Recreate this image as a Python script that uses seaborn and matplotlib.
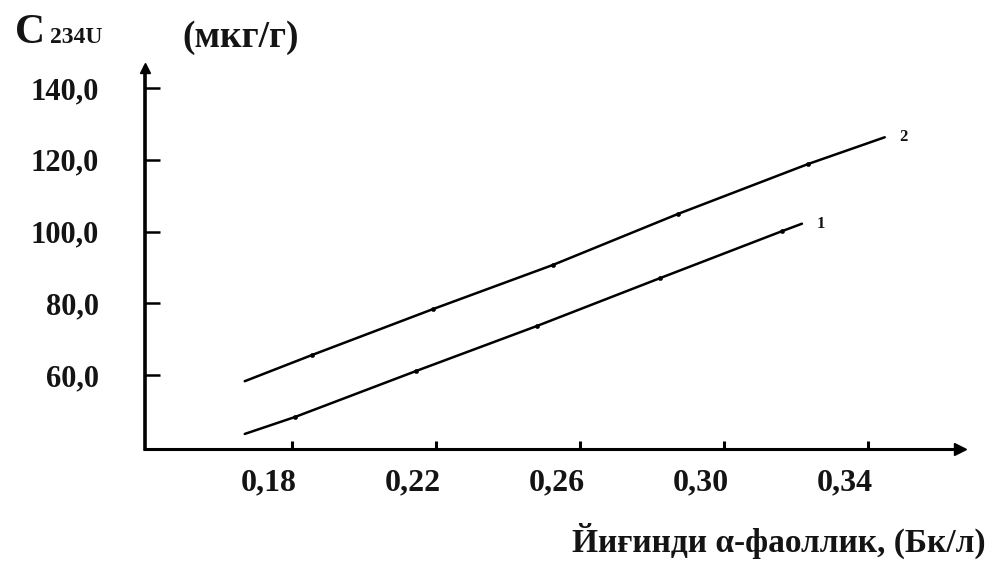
import numpy as np
import pandas as pd
import matplotlib
matplotlib.use("Agg")
import matplotlib.pyplot as plt
import matplotlib.transforms as mtransforms
import seaborn as sns

# ---------------------------------------------------------------------------
# Data
# ---------------------------------------------------------------------------
x_line1 = [0.1669, 0.1808, 0.2144, 0.2481, 0.2822, 0.3161, 0.3217]
y_line1 = [43.6, 48.3, 61.1, 73.7, 87.0, 100.1, 102.2]
x_line2 = [0.1669, 0.1856, 0.2192, 0.2525, 0.2872, 0.3233, 0.3447]
y_line2 = [58.3, 65.6, 78.4, 90.7, 104.9, 118.8, 126.3]

x_ticks = [0.18, 0.22, 0.26, 0.30, 0.34]
x_tick_labels = ["0,18", "0,22", "0,26", "0,30", "0,34"]
y_ticks = [60, 80, 100, 120, 140]
y_tick_labels = ["60,0", "80,0", "100,0", "120,0", "140,0"]

x_label = "Йиғинди α-фаоллик, (Бк/л)"
y_unit = "(мкг/г)"

df = pd.concat([
    pd.DataFrame({"x": x_line1, "y": y_line1, "line": "1"}),
    pd.DataFrame({"x": x_line2, "y": y_line2, "line": "2"}),
], ignore_index=True)

# ---------------------------------------------------------------------------
# Style
# ---------------------------------------------------------------------------
sns.set_theme(style="white")
plt.rcParams["font.family"] = ["Liberation Serif", "DejaVu Serif"]
plt.rcParams["font.weight"] = "bold"
INK = "#141414"

fig = plt.figure(figsize=(9.92, 5.65), dpi=100)
ax = fig.add_axes([0.1462, 0.2053, 0.8215, 0.6743])

sns.lineplot(data=df, x="x", y="y", units="line", estimator=None,
             color="black", lw=1.8, ax=ax, legend=False)
pts = df.groupby("line", group_keys=False).apply(lambda g: g.iloc[1:-1])
sns.scatterplot(data=pts, x="x", y="y", color="black", s=10, marker="o",
                edgecolor="black", ax=ax, legend=False, zorder=3)

ax.set_xlim(0.1392, 0.3656)
ax.set_ylim(39.4, 145.6)

for s in ["top", "right"]:
    ax.spines[s].set_visible(False)
ax.spines["left"].set_linewidth(2.6)
ax.spines["bottom"].set_linewidth(2.2)
ax.spines["left"].set_color("black")
ax.spines["bottom"].set_color("black")

# axis arrows
ax.plot(1, 0, marker=">", color="black", ms=9, transform=ax.transAxes, clip_on=False)
ax.plot(0, 1, marker="^", color="black", ms=7, transform=ax.transAxes, clip_on=False)

ax.set_xticks(x_ticks)
ax.set_xticklabels(x_tick_labels, fontsize=23, fontweight="bold", color=INK)
ax.set_yticks(y_ticks)
ax.set_yticklabels(y_tick_labels, fontsize=22, fontweight="bold", color=INK)
ax.tick_params(axis="y", left=True, direction="in", length=11, width=1.8, pad=33,
               colors="black", labelcolor=INK)
ax.tick_params(axis="x", bottom=True, direction="in", length=6, width=2.2, pad=14,
               colors="black", labelcolor=INK)
for lab in ax.get_xticklabels():
    lab.set_transform(lab.get_transform() +
                      mtransforms.ScaledTranslation(-0.23, 0, fig.dpi_scale_trans))
ax.set_xlabel("")
ax.set_ylabel("")

# series numbers
ax.text(x_line1[-1] + 0.004, y_line1[-1], "1", fontsize=12, fontweight="bold",
        va="center", ha="left", color=INK)
ax.text(x_line2[-1] + 0.004, y_line2[-1], "2", fontsize=12, fontweight="bold",
        va="center", ha="left", color=INK)

# titles
fig.text(15 / 992, 1 - 43 / 565, "C", fontsize=30, fontweight="bold", color=INK)
fig.text(50 / 992, 1 - 43 / 565, "234U", fontsize=17, fontweight="bold", color=INK)
fig.text(182 / 992, 1 - 47 / 565, y_unit, fontsize=27, fontweight="bold", color=INK)
fig.text(986 / 992, 1 - 541 / 565, x_label, fontsize=24, fontweight="bold",
         ha="right", va="center", color=INK)

fig.savefig("out.png", dpi=100)
